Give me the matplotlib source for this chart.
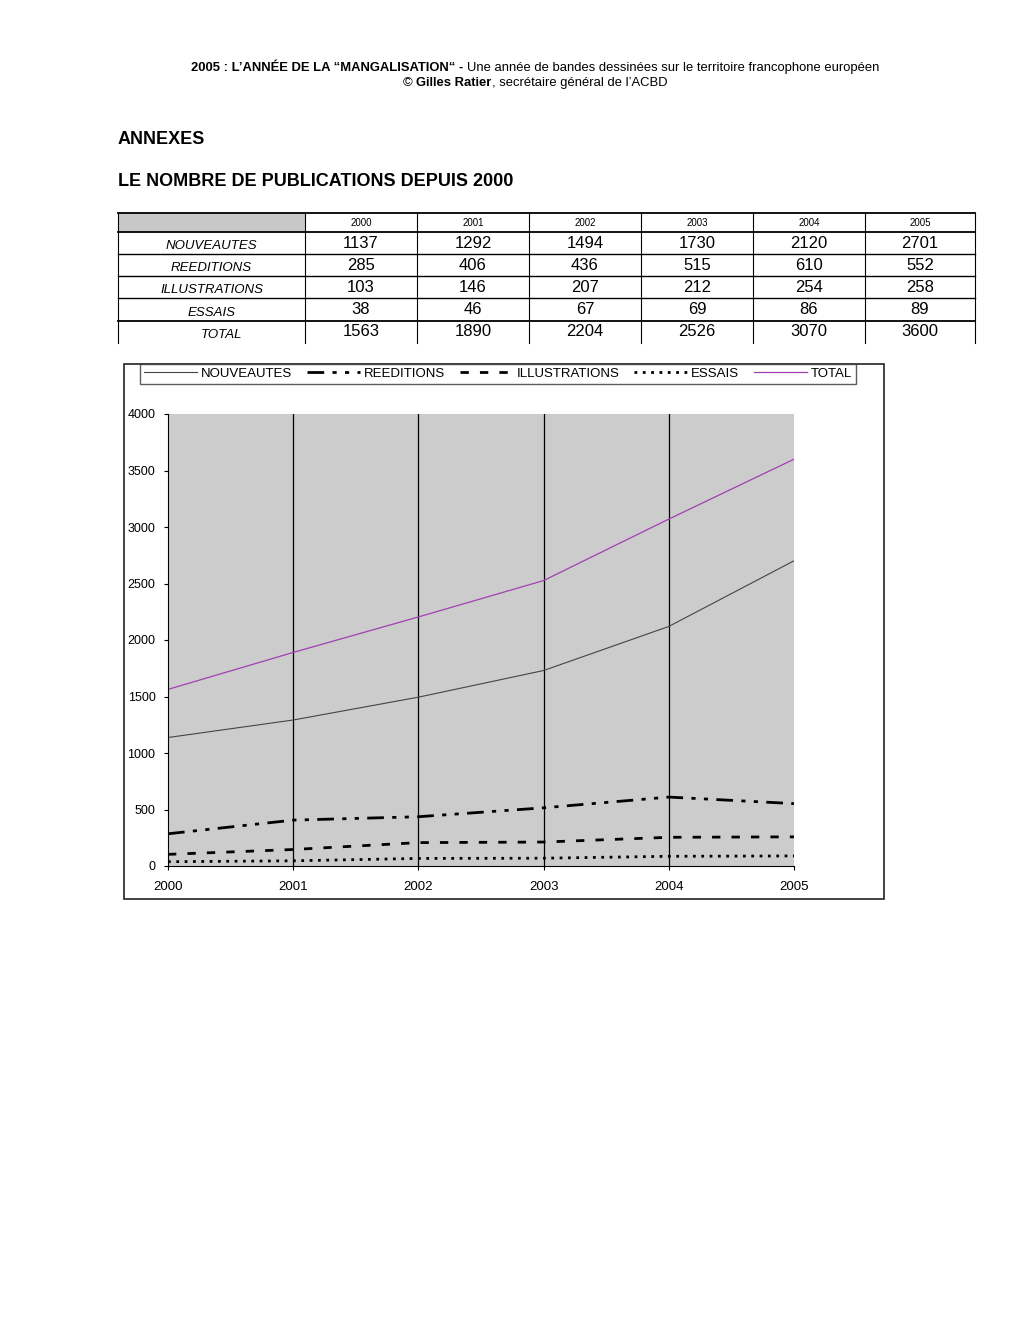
import matplotlib
matplotlib.use("Agg")
import matplotlib.pyplot as plt
from matplotlib.patches import Rectangle
from matplotlib.offsetbox import TextArea, HPacker, AnnotationBbox

plt.rcParams['font.family'] = ['Liberation Sans', 'DejaVu Sans']

# --- DATA ---
years = [2000, 2001, 2002, 2003, 2004, 2005]
categories = ["NOUVEAUTES", "REEDITIONS", "ILLUSTRATIONS", "ESSAIS", "TOTAL"]
nouveautes = [1137, 1292, 1494, 1730, 2120, 2701]
reeditions = [285, 406, 436, 515, 610, 552]
illustrations = [103, 146, 207, 212, 254, 258]
essais = [38, 46, 67, 69, 86, 89]
total = [1563, 1890, 2204, 2526, 3070, 3600]
yticks = [0, 500, 1000, 1500, 2000, 2500, 3000, 3500, 4000]

W, H = 1020, 1320
fig = plt.figure(figsize=(W / 100, H / 100), dpi=100)

# background axes in pixel coords for page text + table
bg = fig.add_axes([0, 0, 1, 1])
bg.set_xlim(0, W)
bg.set_ylim(H, 0)
bg.axis('off')

# --- header ---
hs = 9.4
t1 = TextArea("2005 : L\u2019ANN\u00c9E DE LA \u201cMANGALISATION\u201c - ",
              textprops=dict(fontsize=hs, fontweight='bold'))
t2 = TextArea("Une ann\u00e9e de bandes dessin\u00e9es sur le territoire francophone europ\u00e9en",
              textprops=dict(fontsize=hs))
t3 = TextArea("\u00a9 ", textprops=dict(fontsize=hs))
t4 = TextArea("Gilles Ratier", textprops=dict(fontsize=hs, fontweight='bold'))
t5 = TextArea(", secr\u00e9taire g\u00e9n\u00e9ral de l\u2019ACBD", textprops=dict(fontsize=hs))
row1 = HPacker(children=[t1, t2], pad=0, sep=0)
row2 = HPacker(children=[t3, t4, t5], pad=0, sep=0)
for row, y in ((row1, 68), (row2, 83)):
    ab = AnnotationBbox(row, (535, y), xycoords='data', frameon=False, box_alignment=(0.5, 0.5))
    bg.add_artist(ab)

bg.text(118, 140, "ANNEXES", ha='left', va='center', fontsize=13, fontweight='bold')
bg.text(118, 182, "LE NOMBRE DE PUBLICATIONS DEPUIS 2000", ha='left', va='center',
        fontsize=13, fontweight='bold')

# --- table ---
col_x = [118, 305, 417, 529, 641, 753, 865, 975]
row_y = [213, 232, 254, 276, 298, 321, 343]
rows = [nouveautes, reeditions, illustrations, essais, total]
bg.add_patch(Rectangle((col_x[0], row_y[0]), col_x[1] - col_x[0], row_y[1] - row_y[0],
                       facecolor='#c8c8c8', edgecolor='none'))
for y in row_y[:-1]:
    bg.plot([col_x[0], col_x[-1]], [y, y], color='black', lw=1 if y not in (213, 232, 321) else 1.3)
for x in col_x:
    bg.plot([x, x], [row_y[0], row_y[-1]], color='black', lw=0.8)
for j, yr in enumerate(years):
    bg.text((col_x[j + 1] + col_x[j + 2]) / 2, 223.5, str(yr), ha='center', va='center', fontsize=7)
for i, (name, vals) in enumerate(zip(categories, rows)):
    yc = (row_y[i + 1] + row_y[i + 2]) / 2
    bg.text((col_x[0] + col_x[1]) / 2 + (10 if name == "TOTAL" else 0), yc + 3, name,
            ha='center', va='center', fontsize=9.5, style='italic')
    for j, v in enumerate(vals):
        bg.text((col_x[j + 1] + col_x[j + 2]) / 2, yc, str(v), ha='center', va='center', fontsize=12)

# --- chart frame ---
bg.add_patch(Rectangle((124, 364), 760, 535, facecolor='none', edgecolor='#222222', lw=1.2))

x0, x1, ytop, ybot = 168, 794, 414, 866
ax = fig.add_axes([x0 / W, 1 - ybot / H, (x1 - x0) / W, (ybot - ytop) / H])
ax.set_facecolor('#cccccc')
ax.set_xlim(2000, 2005)
ax.set_ylim(0, 4000)
for s in ('top', 'right'):
    ax.spines[s].set_visible(False)
ax.spines['left'].set_linewidth(0.8)
ax.spines['bottom'].set_linewidth(0.8)
ax.set_xticks(years)
ax.set_yticks(yticks)
ax.set_yticklabels([str(v) for v in yticks], fontsize=9)
ax.set_xticklabels([str(v) for v in years], fontsize=9.5)
ax.tick_params(axis='y', length=3, pad=6)
ax.tick_params(axis='x', length=3, pad=8)
for yr in years[1:-1]:
    ax.axvline(yr, color='black', lw=0.9)

l1, = ax.plot(years, nouveautes, color='#444444', lw=0.8)
l2, = ax.plot(years, reeditions, color='black', lw=2, linestyle=(0, (6, 3, 1.5, 3, 1.5, 3)))
l3, = ax.plot(years, illustrations, color='black', lw=2, linestyle=(0, (3, 4)))
l4, = ax.plot(years, essais, color='black', lw=2, linestyle=(0, (1, 2)))
l5, = ax.plot(years, total, color='#a040b0', lw=0.9)

leg = fig.legend([l1, l2, l3, l4, l5], categories, ncol=5, loc='upper left', mode='expand',
                 bbox_to_anchor=(140 / W, 1 - 364 / H, 716 / W, 0.0001), fontsize=9.5,
                 frameon=True, fancybox=False, edgecolor='#333333', handlelength=4,
                 columnspacing=1.2, handletextpad=0.3, borderpad=0.3, borderaxespad=0)
leg.get_frame().set_linewidth(1)

fig.savefig("out.png", dpi=100)
